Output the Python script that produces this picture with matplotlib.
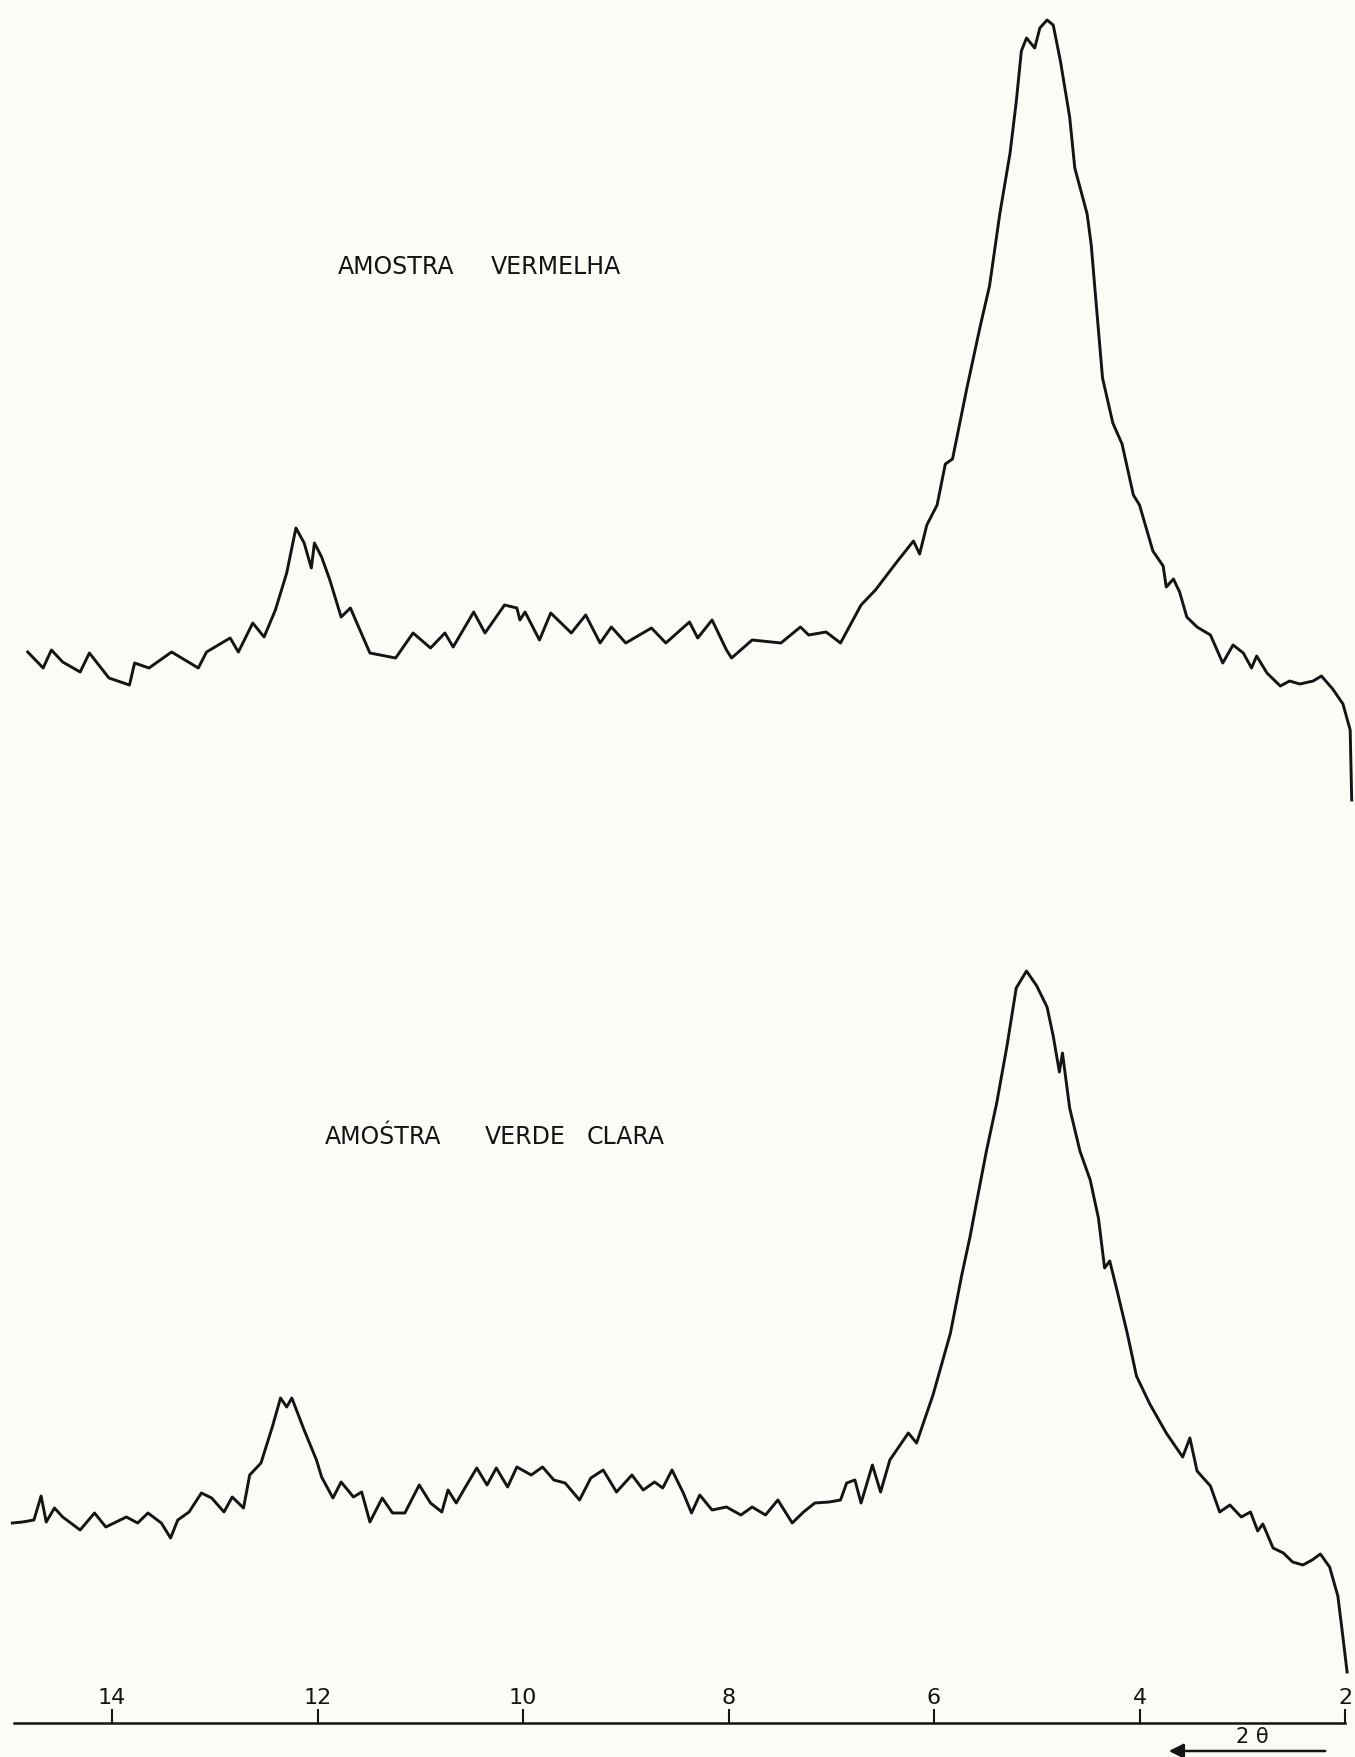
import numpy as np
import matplotlib
matplotlib.use('Agg')
import matplotlib.pyplot as plt

two_theta_vermelha = [14.82, 14.67, 14.59, 14.48, 14.31, 14.22, 14.03, 13.83, 13.78, 13.64,
                      13.42, 13.16, 13.08, 12.85, 12.77, 12.63, 12.52, 12.41, 12.30, 12.21,
                      12.13, 12.06, 12.03, 11.96, 11.88, 11.77, 11.68, 11.60, 11.49, 11.24,
                      11.07, 10.90, 10.76, 10.68, 10.48, 10.37, 10.18, 10.06, 10.03, 9.98,
                      9.84, 9.73, 9.53, 9.39, 9.25, 9.14, 9.00, 8.75, 8.61, 8.38,
                      8.30, 8.16, 8.02, 7.97, 7.77, 7.49, 7.30, 7.22, 7.05, 6.91,
                      6.71, 6.57, 6.37, 6.20, 6.14, 6.07, 5.97, 5.89, 5.82, 5.68,
                      5.55, 5.46, 5.36, 5.26, 5.20, 5.15, 5.10, 5.02, 4.97, 4.90,
                      4.84, 4.77, 4.68, 4.63, 4.51, 4.47, 4.42, 4.36, 4.26, 4.17,
                      4.06, 4.00, 3.87, 3.77, 3.74, 3.67, 3.61, 3.54, 3.44, 3.31,
                      3.19, 3.09, 2.99, 2.91, 2.86, 2.76, 2.63, 2.54, 2.44, 2.31,
                      2.23, 2.12, 2.02, 1.95, 1.935]
int_vermelha = [16.6, 15.0, 16.8, 15.6, 14.6, 16.5, 14.0, 13.3, 15.5, 15.0,
                16.6, 15.0, 16.6, 18.0, 16.6, 19.5, 18.1, 20.8, 24.5, 29.0,
                27.5, 25.0, 27.5, 26.1, 23.8, 20.1, 21.0, 19.1, 16.5, 16.0,
                18.5, 17.0, 18.5, 17.1, 20.6, 18.5, 21.3, 21.0, 19.8, 20.6,
                17.8, 20.5, 18.5, 20.3, 17.5, 19.1, 17.5, 19.0, 17.5, 19.6,
                18.0, 19.8, 16.8, 16.0, 17.8, 17.5, 19.1, 18.3, 18.6, 17.5,
                21.3, 22.8, 25.5, 27.7, 26.4, 29.3, 31.3, 35.4, 35.9, 43.0,
                49.2, 53.2, 60.4, 66.5, 71.6, 76.7, 78.0, 77.0, 79.0, 79.8,
                79.3, 75.7, 70.1, 65.0, 60.4, 57.3, 51.2, 44.0, 39.5, 37.4,
                32.3, 31.3, 26.7, 25.2, 23.1, 23.9, 22.6, 20.1, 19.1, 18.3,
                15.5, 17.3, 16.5, 15.0, 16.2, 14.5, 13.2, 13.7, 13.4, 13.7,
                14.2, 12.9, 11.4, 8.8, 1.8]

two_theta_verde = [14.97, 14.87, 14.76, 14.69, 14.64, 14.56, 14.48, 14.31, 14.17, 14.06,
                   13.86, 13.75, 13.65, 13.52, 13.43, 13.36, 13.25, 13.13, 13.03, 12.91,
                   12.83, 12.72, 12.66, 12.55, 12.44, 12.36, 12.30, 12.25, 12.13, 12.01,
                   11.96, 11.85, 11.77, 11.65, 11.57, 11.49, 11.37, 11.27, 11.15, 11.01,
                   10.90, 10.79, 10.73, 10.65, 10.56, 10.45, 10.35, 10.26, 10.15, 10.06,
                   9.92, 9.81, 9.70, 9.59, 9.45, 9.34, 9.22, 9.09, 8.94, 8.83,
                   8.72, 8.64, 8.55, 8.44, 8.36, 8.28, 8.16, 8.02, 7.88, 7.77,
                   7.64, 7.52, 7.38, 7.27, 7.16, 7.02, 6.91, 6.85, 6.77, 6.71,
                   6.60, 6.52, 6.43, 6.25, 6.17, 6.01, 5.93, 5.84, 5.73, 5.65,
                   5.58, 5.49, 5.39, 5.29, 5.20, 5.10, 5.00, 4.90, 4.84, 4.78,
                   4.75, 4.68, 4.58, 4.48, 4.40, 4.34, 4.29, 4.22, 4.12, 4.03,
                   3.90, 3.74, 3.58, 3.51, 3.44, 3.31, 3.22, 3.12, 3.01, 2.92,
                   2.85, 2.80, 2.70, 2.60, 2.51, 2.41, 2.32, 2.24, 2.15, 2.07,
                   2.03, 1.98]
int_verde = [19.5, 19.6, 19.8, 22.2, 19.6, 21.0, 20.1, 18.8, 20.5, 19.1,
             20.1, 19.5, 20.5, 19.5, 18.0, 19.8, 20.6, 22.5, 22.0, 20.6,
             22.1, 21.0, 24.3, 25.5, 29.1, 32.0, 31.1, 32.0, 28.8, 25.8,
             24.1, 22.0, 23.6, 22.1, 22.6, 19.6, 22.0, 20.5, 20.5, 23.3,
             21.5, 20.6, 22.8, 21.5, 23.1, 25.0, 23.3, 25.0, 23.1, 25.1,
             24.3, 25.1, 23.8, 23.5, 21.8, 24.0, 24.8, 22.6, 24.3, 22.8,
             23.6, 23.0, 24.8, 22.5, 20.5, 22.3, 20.8, 21.1, 20.3, 21.1,
             20.3, 21.8, 19.5, 20.6, 21.5, 21.6, 21.8, 23.5, 23.8, 21.5,
             25.3, 22.6, 25.8, 28.5, 27.5, 32.3, 35.2, 38.5, 44.3, 48.1,
             51.9, 56.7, 61.5, 67.2, 73.0, 74.7, 73.2, 71.1, 68.2, 64.6,
             66.5, 61.0, 56.7, 53.8, 50.0, 45.0, 45.7, 42.8, 38.5, 34.2,
             31.4, 28.5, 26.1, 28.0, 24.7, 23.2, 20.6, 21.3, 20.1, 20.6,
             18.7, 19.4, 17.0, 16.5, 15.6, 15.3, 15.8, 16.4, 15.1, 12.2,
             8.9, 4.6]

offset_vermelha = 90.0          # deslocamento vertical do registro superior
ticks_2theta = [14, 12, 10, 8, 6, 4, 2]
tick_labels = ['14', '12', '10', '8', '6', '4', '2']

W, H = 1355, 1757
paper = '#fcfcf7'
ink = '#141414'

fig = plt.figure(figsize=(W / 100, H / 100), dpi=100, facecolor=paper)
ax = fig.add_axes([0, 34 / H, 1, 1723 / H])
ax.set_facecolor(paper)

ax.plot(two_theta_vermelha, np.array(int_vermelha) + offset_vermelha,
        color=ink, lw=2.1, clip_on=False)
ax.plot(two_theta_verde, int_verde, color=ink, lw=2.1, clip_on=False)

# eixo 2θ invertido (14 à esquerda, 2 à direita)
ax.set_xlim(15.09, 1.903)
ax.set_ylim(-0.5, 171.8)

for s in ['left', 'right', 'top']:
    ax.spines[s].set_visible(False)
ax.spines['bottom'].set_bounds(14.95, 2)
ax.spines['bottom'].set_linewidth(1.8)
ax.spines['bottom'].set_color(ink)
ax.set_yticks([])
ax.set_xticks(ticks_2theta)
ax.set_xticklabels(tick_labels)
ax.tick_params(axis='x', direction='in', length=10, width=1.5, color=ink,
               pad=-25, labelsize=16, labelcolor=ink)

# rótulos das amostras (palavras espaçadas como no original)
rotulo_kw = dict(ha='left', va='center', fontsize=17, color=ink, family='DejaVu Sans')
for palavra, x_px in [('AMOSTRA', 338), ('VERMELHA', 491)]:
    fig.text(x_px / W, 1 - 267 / H, palavra, **rotulo_kw)
for palavra, x_px in [('AMOŚTRA', 325), ('VERDE', 485), ('CLARA', 587)]:
    fig.text(x_px / W, 1 - 1137 / H, palavra, **rotulo_kw)

# indicação do sentido da varredura
fig.text(1252 / W, 1 - 1737 / H, '2 θ', ha='center', va='center',
         fontsize=15, color=ink)
ax.annotate('', xy=(1166 / W, 1 - 1751 / H), xytext=(1328 / W, 1 - 1751 / H),
            xycoords='figure fraction', textcoords='figure fraction',
            arrowprops=dict(arrowstyle='-|>', color=ink, lw=1.8,
                            mutation_scale=22))

fig.savefig('out.png', dpi=100, facecolor=paper)
